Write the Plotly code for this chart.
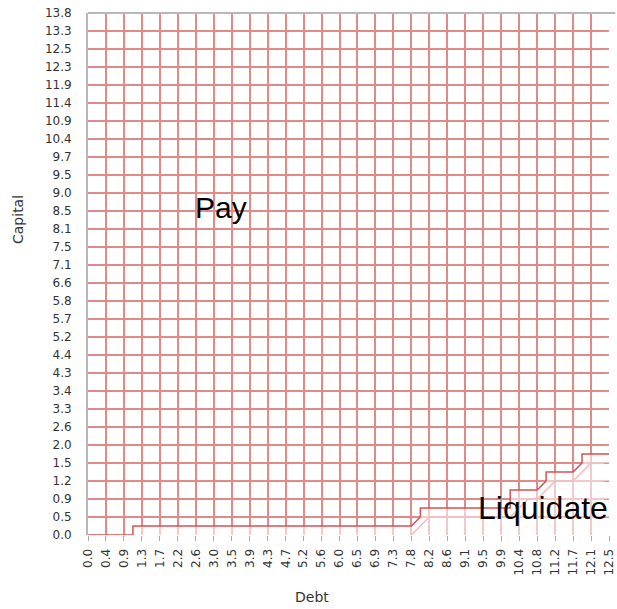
import plotly.graph_objects as go

# Tick labels (uniformly spaced categories on both axes)
x_labels = ["0.0", "0.4", "0.9", "1.3", "1.7", "2.2", "2.6", "3.0", "3.5", "3.9",
            "4.3", "4.7", "5.2", "5.6", "6.0", "6.5", "6.9", "7.3", "7.8", "8.2",
            "8.6", "9.1", "9.5", "9.9", "10.4", "10.8", "11.2", "11.7", "12.1", "12.5"]
y_labels = ["0.0", "0.5", "0.9", "1.2", "1.5", "2.0", "2.6", "3.3", "3.4", "4.3",
            "4.4", "5.2", "5.7", "5.8", "6.6", "7.1", "7.5", "8.1", "8.5", "9.0",
            "9.5", "9.7", "10.4", "10.9", "11.4", "11.9", "12.3", "12.5", "13.3", "13.8"]

# Decision boundaries, in tick-index units (debt index, capital index)
pay_edge_x = [0, 2.5, 2.5, 18, 18.5, 18.5, 23.5, 23.5, 25, 25.5, 25.5, 27, 27.5, 27.5, 29]
pay_edge_y = [0, 0, 0.5, 0.5, 1.0, 1.5, 1.5, 2.5, 2.5, 3.0, 3.5, 3.5, 4.0, 4.5, 4.5]
liq_edge_x = [18, 19, 23.5, 24.5, 25, 26, 27, 28, 29]
liq_edge_y = [0, 1, 1, 2, 2, 3, 3, 4, 4]

x_idx = list(range(len(x_labels)))
y_idx = list(range(len(y_labels)))
n_x = len(x_labels) - 1
n_y = len(y_labels) - 1

fig = go.Figure()

# Lighten the grid inside the liquidate region
fig.add_trace(go.Scatter(
    x=pay_edge_x + [n_x, 0], y=pay_edge_y + [0, 0],
    fill="toself", fillcolor="rgba(255,255,255,0.55)",
    line=dict(width=0), mode="lines", hoverinfo="skip", showlegend=False))

fig.add_trace(go.Scatter(
    x=liq_edge_x, y=liq_edge_y, mode="lines",
    line=dict(color="rgb(240,190,190)", width=1.5),
    hoverinfo="skip", showlegend=False))

fig.add_trace(go.Scatter(
    x=pay_edge_x, y=pay_edge_y, mode="lines",
    line=dict(color="rgb(205,85,85)", width=1.5),
    hoverinfo="skip", showlegend=False))

# invisible trace for the right-hand axis
fig.add_trace(go.Scatter(x=[0], y=[0], yaxis="y2", mode="markers",
                         marker=dict(opacity=0), hoverinfo="skip", showlegend=False))

tick_font = dict(family="DejaVu Sans", size=12, color="#333333")
grid_col = "rgb(226,138,138)"

fig.update_layout(
    width=617, height=609,
    margin=dict(l=88, r=8, t=13, b=74),
    paper_bgcolor="white", plot_bgcolor="white",
    font=dict(family="DejaVu Sans", color="#333333"),
    xaxis=dict(
        range=[0, n_x], tickmode="array", tickvals=x_idx, ticktext=x_labels,
        tickangle=-90, tickfont=tick_font, automargin=False,
        ticklabeloverflow="allow",
        showgrid=True, gridcolor=grid_col, gridwidth=1.6,
        zeroline=False, showline=False,
        ticks="outside", ticklen=5, tickcolor="#aaaaaa",
        ticklabelstandoff=3, fixedrange=True),
    yaxis=dict(
        range=[0, n_y], tickmode="array", tickvals=y_idx, ticktext=y_labels,
        tickfont=tick_font, automargin=False, ticklabeloverflow="allow",
        showgrid=True, gridcolor=grid_col, gridwidth=1.6,
        zeroline=False, showline=True, linecolor="#b8b8b8", linewidth=2,
        ticks="", ticklabelstandoff=12, fixedrange=True),
    yaxis2=dict(
        range=[0, n_y], tickmode="array", tickvals=y_idx, overlaying="y",
        side="right", showticklabels=False, showgrid=False, zeroline=False,
        ticks="inside", ticklen=5, tickcolor="#aaaaaa", showline=False,
        automargin=False, fixedrange=True),
    shapes=[dict(type="line", xref="paper", yref="paper",
                 x0=0, x1=1.012, y0=1, y1=1,
                 line=dict(color="#b8b8b8", width=2))],
    annotations=[
        dict(text="Capital", xref="paper", yref="paper",
             x=(18 - 88) / 521, y=(535 - 220) / 522, textangle=-90,
             showarrow=False, xanchor="center", yanchor="middle",
             font=dict(family="DejaVu Sans", size=14, color="#333333")),
        dict(text="Debt", xref="paper", yref="paper",
             x=(312 - 88) / 521, y=(535 - 597) / 522,
             showarrow=False, xanchor="center", yanchor="middle",
             font=dict(family="DejaVu Sans", size=14, color="#333333")),
        dict(text="Pay", x=7.4, y=18.2, showarrow=False,
             xanchor="center", yanchor="middle",
             font=dict(family="Liberation Sans", size=30, color="black")),
        dict(text="Liquidate", x=25.3, y=1.5, showarrow=False,
             xanchor="center", yanchor="middle",
             font=dict(family="Liberation Sans", size=32, color="black")),
    ],
)

# remove the browser's default 8px body margin so the figure fills the window
fig.write_html("out.html",
               config={"displayModeBar": False},
               post_script="document.body.style.margin='0';"
                           "document.body.style.overflow='hidden';")
